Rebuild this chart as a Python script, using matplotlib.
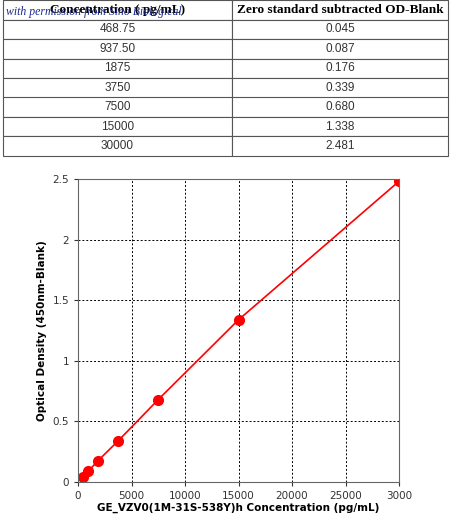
import matplotlib.pyplot as plt

conc = [468.75, 937.50, 1875, 3750, 7500, 15000, 30000]
conc_labels = ["468.75", "937.50", "1875", "3750", "7500", "15000", "30000"]
od = [0.045, 0.087, 0.176, 0.339, 0.680, 1.338, 2.481]
od_labels = ["0.045", "0.087", "0.176", "0.339", "0.680", "1.338", "2.481"]
headers = ["Concentration ( pg/mL)", "Zero standard subtracted OD-Blank"]

W, H = 450, 530
fig = plt.figure(figsize=(W / 100, H / 100), dpi=100)

# ---- table ----
tax = fig.add_axes([3 / W, 1 - 156 / H, 445 / W, 156 / H])
tax.set_axis_off()
rows = [[c, o] for c, o in zip(conc_labels, od_labels)]
tbl = tax.table(cellText=rows, colLabels=headers, bbox=[0, 0, 1, 1],
                cellLoc="center", colWidths=[229 / 445, 216 / 445])
tbl.auto_set_font_size(False)
for (r, c), cell in tbl.get_celld().items():
    cell.set_linewidth(0.8)
    cell.set_edgecolor("#555555")
    if r == 0:
        cell.get_text().set_fontfamily("Liberation Serif")
        cell.get_text().set_fontweight("bold")
        cell.get_text().set_fontsize(9.5)
    else:
        cell.get_text().set_fontfamily("Liberation Sans")
        cell.get_text().set_fontsize(8.5)
        cell.get_text().set_color("#333333")
fig.text(6 / W, 1 - 12 / H, "with permission from Sino Biological", fontsize=8.5,
         family="Liberation Serif", style="italic", color="#1a2a8a", va="center")

# ---- plot ----
ax = fig.add_axes([78 / W, 1 - 482 / H, 321 / W, 303 / H])
ax.plot(conc, od, color="red", lw=1.2, marker="o", ms=7)
ax.set_xlim(0, 30000)
ax.set_ylim(0, 2.5)
ax.set_xticks(range(0, 30001, 5000))
ax.set_xticklabels(["0", "5000", "10000", "15000", "20000", "25000", "3000"])
ax.set_yticks([0, 0.5, 1, 1.5, 2, 2.5])
ax.set_yticklabels(["0", "0.5", "1", "1.5", "2", "2.5"])
ax.grid(True, color="black", ls=(0, (2, 2)), lw=0.7)
ax.tick_params(labelsize=7.5, length=3, colors="#333333")
for s in ax.spines.values():
    s.set_color("#666666")
ax.set_xlabel("GE_VZV0(1M-31S-538Y)h Concentration (pg/mL)", fontsize=7.5,
              fontweight="bold", labelpad=1)
ax.set_ylabel("Optical Density (450nm-Blank)", fontsize=7.5, fontweight="bold")

fig.savefig("out.png", dpi=100)
